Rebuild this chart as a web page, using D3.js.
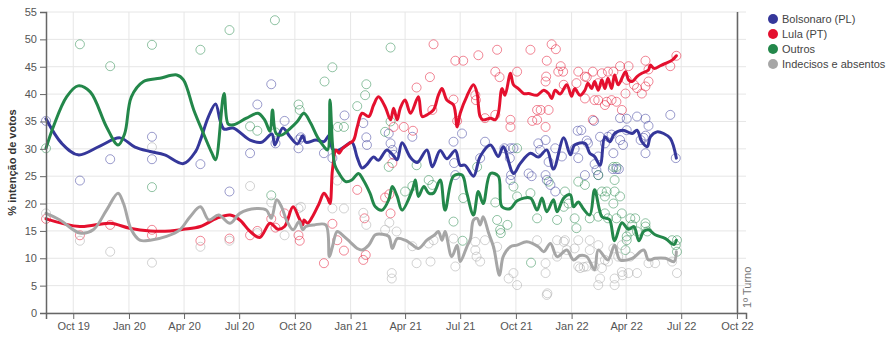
<!DOCTYPE html>
<html><head><meta charset="utf-8">
<script src="https://cdn.jsdelivr.net/npm/d3@7"></script>
<style>
body{margin:0;background:#fff;}
svg{font-family:"Liberation Sans",Arial,sans-serif;}
</style></head><body>
<svg id="chart" width="886" height="339"></svg>
<script>
const seriesNames = ["Bolsonaro (PL)", "Lula (PT)", "Outros", "Indecisos e absentos"];
const seriesColors = ["#35379a", "#e4102e", "#23874a", "#a6a6a6"];
const yTickValues = [0,5,10,15,20,25,30,35,40,45,50,55];
const dateDomain = ["2019-08-17", "2022-10-16"];
const electionDate = "2022-10-02";
const electionLabel = "1º Turno";
const yLabel = "% intenção de votos";

const bolsonaroPolls = [["2019-08-17",35.1],["2019-10-12",24.2],["2019-12-01",28.1],["2020-02-08",32.2],["2020-02-08",28.1],["2020-04-28",27.2],["2020-06-15",22.2],["2020-07-19",29.2],["2020-07-31",38.1],["2020-08-23",41.8],["2020-08-30",31],["2020-09-14",35.1],["2020-10-07",30.1],["2020-10-08",31.7],["2020-10-11",32.1],["2020-11-18",29.2],["2020-12-02",28.3],["2020-12-22",36.1],["2021-01-22",34.7],["2021-01-27",32.1],["2021-01-28",30.7],["2021-03-05",32.8],["2021-03-08",31],["2021-03-11",29.8],["2021-03-13",28.9],["2021-04-13",32.2],["2021-06-20",31.3],["2021-06-21",27.4],["2021-06-23",25.2],["2021-07-04",32.8],["2021-08-03",28.3],["2021-08-11",31.3],["2021-09-12",30.1],["2021-09-22",30.1],["2021-09-27",30.1],["2021-09-21",28.3],["2021-09-23",25.2],["2021-09-22",24.3],["2021-10-22",25.5],["2021-10-27",25],["2021-11-07",31],["2021-11-10",29.8],["2021-11-19",31.6],["2021-11-19",25.2],["2021-11-21",24.3],["2021-11-24",27.6],["2021-11-27",23.4],["2021-12-05",22.2],["2021-12-05",30.1],["2021-12-16",28.6],["2022-01-06",30],["2022-01-11",33.3],["2022-01-12",28.3],["2022-01-17",33.4],["2022-01-23",25.2],["2022-01-26",31.5],["2022-01-28",31],["2022-02-07",35.1],["2022-02-08",27.2],["2022-02-11",26.1],["2022-02-14",25.2],["2022-02-14",28.6],["2022-02-17",32.2],["2022-02-25",31],["2022-03-02",32.2],["2022-03-08",32.6],["2022-03-11",29.2],["2022-03-10",26.3],["2022-03-16",26.3],["2022-03-20",26.3],["2022-03-22",35.6],["2022-03-22",31.6],["2022-03-27",30.7],["2022-04-02",35.5],["2022-04-02",33.4],["2022-04-19",35.9],["2022-04-25",31.6],["2022-04-30",32],["2022-05-03",35.5],["2022-05-03",32.4],["2022-05-03",29.2],["2022-05-08",34.2],["2022-06-13",36.2],["2022-06-22",28.3]];

const lulaPolls = [["2019-08-17",17.2],["2019-10-12",14.2],["2019-12-01",16.1],["2020-02-08",15.2],["2020-02-08",14.2],["2020-04-28",13.2],["2020-06-15",13.6],["2020-07-19",14.2],["2020-07-31",15],["2020-08-23",17.2],["2020-08-30",15.6],["2020-09-14",18.2],["2020-10-07",14.2],["2020-10-09",13.2],["2020-11-18",9.1],["2020-12-02",16.3],["2020-12-10",13.3],["2020-12-21",11.4],["2021-01-12",22.5],["2021-01-24",17.3],["2021-01-26",10.6],["2021-01-22",9.7],["2021-02-27",21.1],["2021-03-06",21.7],["2021-03-08",18.2],["2021-03-11",27.4],["2021-03-13",34],["2021-03-30",34],["2021-04-14",33.3],["2021-04-20",41.2],["2021-05-12",43.1],["2021-05-16",37.1],["2021-05-18",49.1],["2021-06-20",39],["2021-06-23",46.1],["2021-06-26",35.1],["2021-07-06",46.1],["2021-07-26",39.8],["2021-07-27",38.9],["2021-07-31",47.1],["2021-08-11",35.6],["2021-08-28",36.2],["2021-08-28",44.1],["2021-08-31",48.1],["2021-09-04",43.1],["2021-09-22",35.3],["2021-09-22",34],["2021-10-03",44.1],["2021-10-25",48.1],["2021-10-28",35.1],["2021-11-05",37.1],["2021-11-05",35.3],["2021-11-11",37.1],["2021-11-19",34],["2021-11-19",42.3],["2021-11-20",43.2],["2021-11-21",46.1],["2021-11-24",37.1],["2021-11-29",49.1],["2021-12-06",48.2],["2021-12-10",44.1],["2021-12-14",45.1],["2021-12-18",44.1],["2021-12-19",41.7],["2022-01-09",42],["2022-01-12",44.1],["2022-01-23",39.2],["2022-01-23",43.2],["2022-01-26",43.1],["2022-02-05",44.1],["2022-02-05",35.3],["2022-02-08",38.9],["2022-02-14",42],["2022-02-14",38.9],["2022-02-20",43.8],["2022-02-25",38],["2022-02-28",38.6],["2022-03-02",44.1],["2022-03-08",38.9],["2022-03-11",44.1],["2022-03-16",38.6],["2022-03-22",45.1],["2022-03-25",37.1],["2022-03-31",40.1],["2022-04-02",42.6],["2022-04-05",45.1],["2022-04-14",41.7],["2022-04-19",41.1],["2022-04-27",40.1],["2022-05-03",46.1],["2022-05-03",41.4],["2022-05-08",44.5],["2022-05-08",42.3],["2022-06-13",45.1],["2022-06-23",47]];

const outrosPolls = [["2019-08-17",30.1],["2019-10-12",49.1],["2019-12-01",45.1],["2020-02-08",49],["2020-02-08",23],["2020-04-28",48.1],["2020-06-15",51.7],["2020-07-19",34.1],["2020-07-31",33.3],["2020-08-23",21.5],["2020-08-29",53.5],["2020-08-30",33],["2020-10-07",38.1],["2020-10-09",37.1],["2020-11-19",42.3],["2020-12-02",44.9],["2020-12-11",34],["2020-12-21",34],["2021-01-12",37.8],["2021-01-25",39.8],["2021-01-27",41.8],["2021-02-27",33.1],["2021-03-05",26.7],["2021-03-08",35],["2021-03-08",48.5],["2021-04-01",22.2],["2021-04-13",23.2],["2021-04-20",27],["2021-05-10",24.3],["2021-05-16",23.4],["2021-06-20",16.7],["2021-07-05",13.2],["2021-07-06",21],["2021-07-29",26.7],["2021-08-28",20.2],["2021-08-31",17],["2021-09-05",15.2],["2021-09-06",14.6],["2021-09-17",16.1],["2021-09-27",23.1],["2021-10-03",30.1],["2021-10-03",21.3],["2021-10-25",21.9],["2021-10-26",9.2],["2021-11-05",17.3],["2021-11-24",24],["2021-12-08",17],["2021-12-19",19.4],["2021-12-21",22.2],["2021-12-27",20],["2022-01-06",17.3],["2022-01-09",15.5],["2022-01-12",24],["2022-01-23",23.4],["2022-01-31",17.3],["2022-02-14",25.2],["2022-02-14",17.6],["2022-02-20",22.2],["2022-02-25",21.3],["2022-02-25",18.2],["2022-02-28",22.2],["2022-03-02",17.3],["2022-03-11",20],["2022-03-11",26.7],["2022-03-16",26.7],["2022-03-13",24.3],["2022-03-13",22.2],["2022-03-16",17.3],["2022-03-22",21.3],["2022-03-25",18.2],["2022-03-31",11.5],["2022-04-02",14],["2022-04-02",13.3],["2022-04-08",17.3],["2022-04-08",14.9],["2022-04-11",16.1],["2022-04-16",17.3],["2022-04-19",14.9],["2022-05-03",16.4],["2022-05-03",15.8],["2022-05-06",14.9],["2022-06-16",13.3],["2022-06-22",12.4],["2022-06-24",13.3],["2022-06-24",11.2]];

const indecisosPolls = [["2019-08-17",18.2],["2019-10-12",13.2],["2019-12-01",11.2],["2020-02-08",30.3],["2020-02-08",9.2],["2020-04-28",12.1],["2020-06-15",13.2],["2020-07-19",23.2],["2020-07-31",14.6],["2020-08-23",20.2],["2020-09-14",14.2],["2020-10-07",19.1],["2020-10-11",19.4],["2020-12-02",19.1],["2020-12-10",24.2],["2020-12-21",19.1],["2021-01-22",18.3],["2021-01-27",16.1],["2021-02-27",15.2],["2021-03-06",16.5],["2021-03-10",7.3],["2021-03-10",6.3],["2021-03-18",14.9],["2021-04-13",12.2],["2021-04-20",9.1],["2021-05-10",12.7],["2021-05-13",9.4],["2021-05-18",13.3],["2021-06-20",13.6],["2021-06-23",8.5],["2021-07-26",13],["2021-07-26",11.5],["2021-07-28",10.3],["2021-08-03",9.4],["2021-08-11",13.3],["2021-08-31",12.1],["2021-09-19",6.3],["2021-09-27",7.3],["2021-10-03",5.1],["2021-11-05",13.3],["2021-11-19",9.1],["2021-11-19",7.3],["2021-11-21",3.3],["2021-11-22",3.6],["2021-12-08",13.3],["2021-12-08",10.3],["2021-12-19",13],["2021-12-21",13.3],["2021-12-24",11.5],["2022-01-06",11.8],["2022-01-12",13.3],["2022-01-12",8.5],["2022-01-15",8.2],["2022-01-21",8.4],["2022-01-26",8.5],["2022-01-31",13.3],["2022-01-31",11.5],["2022-02-08",8.5],["2022-02-14",12.4],["2022-02-14",5.1],["2022-02-17",6.3],["2022-02-20",8.2],["2022-02-25",9.7],["2022-03-02",9.4],["2022-03-11",11.8],["2022-03-13",6.3],["2022-03-13",5.1],["2022-03-19",10.3],["2022-03-25",12.4],["2022-03-25",7.5],["2022-03-26",6.9],["2022-04-05",7.3],["2022-04-08",10.3],["2022-04-19",7.3],["2022-05-08",9.1],["2022-05-19",9.1],["2022-06-16",9.4],["2022-06-24",7.3]];

const bolsonaroTrend = [["2019-08-17",35.5],["2019-09-12",31],["2019-10-09",28.9],["2019-11-14",30.5],["2019-12-17",32],["2020-01-11",30.3],["2020-02-05",29.5],["2020-02-29",28.9],["2020-03-31",27.3],["2020-04-20",29.5],["2020-04-28",31.6],["2020-05-11",35.8],["2020-05-23",38.2],["2020-05-31",35],["2020-06-06",33.6],["2020-06-21",33.8],["2020-07-19",31.6],["2020-08-07",31.2],["2020-08-24",32.7],["2020-08-29",30.7],["2020-09-11",33.8],["2020-09-23",32.2],["2020-10-05",30.9],["2020-10-14",32.4],["2020-10-19",31.2],["2020-11-05",31.6],["2020-11-18",31.3],["2020-11-27",32.5],["2020-12-02",30],["2020-12-10",29.7],["2020-12-21",30.3],["2021-01-03",31.2],["2021-01-12",28.4],["2021-01-20",26.5],["2021-01-27",27],["2021-02-08",28.5],["2021-02-16",27.9],["2021-03-02",29.8],["2021-03-13",28.7],["2021-03-19",28],["2021-03-27",31.1],["2021-04-10",28.4],["2021-04-21",27.5],["2021-05-07",29.8],["2021-05-16",26.7],["2021-05-29",29.7],["2021-06-09",28.2],["2021-06-23",29.7],["2021-07-01",27],["2021-07-09",27],["2021-07-23",25],["2021-08-03",28.6],["2021-08-20",30.7],["2021-09-02",28.6],["2021-09-10",30.4],["2021-09-27",25.5],["2021-10-08",27.3],["2021-10-25",29.2],["2021-11-07",28.5],["2021-11-21",29.8],["2021-12-02",26.3],["2021-12-19",32],["2021-12-30",28.9],["2022-01-06",30.7],["2022-01-23",31],["2022-01-31",29.2],["2022-02-08",28.6],["2022-02-17",27],["2022-02-25",32.2],["2022-03-05",31.3],["2022-03-13",32.8],["2022-03-27",33.4],["2022-04-11",32.8],["2022-04-19",33.4],["2022-04-27",31.3],["2022-05-06",30.4],["2022-05-11",32.2],["2022-05-22",33.1],["2022-06-02",32.8],["2022-06-13",31.9],["2022-06-23",28.3]];

const lulaTrend = [["2019-08-17",17.2],["2019-10-12",15.8],["2019-12-01",16.4],["2020-01-02",15.5],["2020-02-05",15],["2020-03-09",15],["2020-03-31",15.3],["2020-04-28",15.8],["2020-05-25",17.3],["2020-06-16",17.9],["2020-07-02",17],["2020-07-19",14.9],["2020-08-04",13.8],["2020-08-21",16.4],["2020-09-03",15.3],["2020-09-14",15.8],["2020-09-28",19.4],["2020-10-08",17.3],["2020-10-14",16.1],["2020-10-16",17],["2020-10-22",16.4],["2020-10-30",17.6],["2020-11-10",20],["2020-11-18",21.9],["2020-11-24",21],["2020-11-28",20],["2020-12-02",26.1],["2020-12-08",29.8],["2020-12-13",29.2],["2020-12-19",30.1],["2020-12-30",31],["2021-01-06",31.6],["2021-01-12",34],["2021-01-20",36.5],["2021-01-31",35.9],["2021-02-08",38],["2021-02-16",39.5],["2021-02-27",37.7],["2021-03-08",35.3],["2021-03-13",37.4],["2021-03-19",35.3],["2021-03-24",37.4],["2021-04-01",38.9],["2021-04-10",36.5],["2021-04-23",39.5],["2021-04-29",35.9],["2021-05-07",36.2],["2021-05-18",37.1],["2021-05-26",39.8],["2021-06-01",41],["2021-06-09",38.9],["2021-06-20",38],["2021-06-26",34],["2021-07-01",36.5],["2021-07-12",39.6],["2021-07-23",41.7],["2021-07-29",40.1],["2021-07-31",38],["2021-08-03",35.9],["2021-08-08",35.3],["2021-08-20",35.6],["2021-08-28",35.3],["2021-09-02",36.5],["2021-09-08",41],["2021-09-13",39.8],["2021-09-22",43.8],["2021-09-27",41.7],["2021-10-05",41],["2021-10-14",40.1],["2021-10-22",40.1],["2021-11-05",39.8],["2021-11-16",40.7],["2021-11-24",40.1],["2021-11-29",39.2],["2021-12-05",40.7],["2021-12-13",40],["2021-12-24",41.7],["2022-01-01",39.6],["2022-01-06",41],["2022-01-15",39.8],["2022-01-23",40.7],["2022-01-28",42],["2022-02-03",41],["2022-02-08",42.3],["2022-02-14",40.7],["2022-02-20",42.6],["2022-02-25",41],["2022-03-02",42.9],["2022-03-08",41],["2022-03-13",43.5],["2022-03-19",41.7],["2022-03-31",44.1],["2022-04-05",42.6],["2022-04-11",42.3],["2022-04-19",43.2],["2022-04-27",43.8],["2022-05-08",44.4],["2022-05-11",45.3],["2022-05-17",44.7],["2022-05-28",45.2],["2022-06-05",45.6],["2022-06-16",46.2],["2022-06-23",47]];

const outrosTrend = [["2019-08-17",30.1],["2019-08-29",34],["2019-09-20",39.5],["2019-10-09",41.5],["2019-10-29",40.4],["2019-11-25",34],["2019-12-14",30.7],["2019-12-25",32.8],["2020-01-05",39.5],["2020-01-25",42.3],["2020-02-21",42.9],["2020-03-20",43.5],["2020-03-31",42.6],["2020-04-17",37.1],["2020-05-03",32.8],["2020-05-17",29.2],["2020-05-23",28],["2020-06-06",40.1],["2020-06-13",34.5],["2020-06-22",34.4],["2020-07-13",35.6],["2020-08-01",36.5],["2020-08-12",35.3],["2020-08-21",33.2],["2020-08-25",37.1],["2020-08-31",32.8],["2020-09-09",32.5],["2020-09-23",33.7],["2020-10-05",35],["2020-10-16",36.5],["2020-10-27",34.7],["2020-11-07",32.2],["2020-11-18",30.4],["2020-11-24",29.8],["2020-11-28",38.9],["2020-12-02",31],["2020-12-06",27],["2020-12-13",25.5],["2020-12-24",24],["2021-01-03",24.3],["2021-01-14",25.5],["2021-01-22",24.3],["2021-02-02",21.9],["2021-02-11",19.4],["2021-02-22",18.8],["2021-03-05",20.7],["2021-03-11",23.1],["2021-03-19",21.3],["2021-03-27",18.8],["2021-04-13",22.5],["2021-04-18",24.3],["2021-04-23",21.3],["2021-05-02",23.1],["2021-05-10",21.9],["2021-05-18",21.9],["2021-05-29",24.3],["2021-06-06",18.8],["2021-06-20",25],["2021-07-04",25.2],["2021-07-12",21.9],["2021-07-23",17.9],["2021-07-31",22.2],["2021-08-08",20],["2021-08-20",25.5],["2021-09-02",25],["2021-09-08",19.4],["2021-09-22",19.1],["2021-10-03",20.5],["2021-10-25",21],["2021-11-05",18.8],["2021-11-13",21],["2021-11-21",18.5],["2021-12-02",20.7],["2021-12-08",18.5],["2021-12-19",21],["2021-12-30",21.6],["2022-01-04",19.4],["2022-01-12",20.3],["2022-01-20",19.1],["2022-01-31",17.9],["2022-02-08",22.5],["2022-02-20",17.6],["2022-02-28",17.3],["2022-03-05",17],["2022-03-13",13.2],["2022-03-25",16.5],["2022-04-05",15.3],["2022-04-14",15.8],["2022-04-22",13.2],["2022-04-30",14.9],["2022-05-08",15.2],["2022-05-19",14.3],["2022-06-05",13.6],["2022-06-19",12.5],["2022-06-23",13.3]];

const indecisosTrend = [["2019-08-17",18.2],["2019-09-09",17],["2019-10-12",14.6],["2019-11-03",15.2],["2019-11-25",18.8],["2019-12-14",21.9],["2019-12-23",20],["2020-01-05",15.2],["2020-01-19",13.3],["2020-02-05",13.3],["2020-03-03",14],["2020-03-25",15.2],["2020-04-11",17.6],["2020-04-28",19.4],["2020-05-12",17],["2020-05-28",17.9],["2020-06-16",16.4],["2020-07-02",18.2],["2020-07-30",19.1],["2020-08-15",18.8],["2020-08-23",17.3],["2020-09-01",20.7],["2020-09-09",19.4],["2020-09-17",17],["2020-09-28",15.2],["2020-10-08",16.7],["2020-10-14",15.2],["2020-10-19",15.8],["2020-11-02",16.1],["2020-11-21",16.1],["2020-11-27",10.3],["2020-12-02",12.1],["2020-12-10",14.9],["2020-12-21",14],["2020-12-31",13],["2021-01-12",11.8],["2021-01-20",11.5],["2021-01-31",12.4],["2021-02-11",14.3],["2021-02-22",14.4],["2021-03-05",14],["2021-03-11",11.8],["2021-03-19",13.6],["2021-04-01",13.3],["2021-04-10",12.7],["2021-04-23",11.8],["2021-05-07",13.3],["2021-05-20",14.3],["2021-05-26",14.9],["2021-06-01",13.3],["2021-06-06",14.9],["2021-06-17",10.3],["2021-06-26",12.4],["2021-07-01",9.4],["2021-07-12",12.1],["2021-07-18",13.6],["2021-07-23",17],["2021-07-29",17.3],["2021-08-03",16.1],["2021-08-08",17.6],["2021-08-17",14.6],["2021-08-25",12.1],["2021-09-04",6.9],["2021-09-10",10.3],["2021-09-22",12.1],["2021-10-03",12.4],["2021-10-19",13],["2021-11-07",12.1],["2021-11-16",11.2],["2021-11-27",12.7],["2021-12-08",10.3],["2021-12-24",11.5],["2022-01-04",9.7],["2022-01-15",10.5],["2022-01-26",10.3],["2022-02-08",7.9],["2022-02-14",11.5],["2022-03-02",9.7],["2022-03-13",12.4],["2022-03-22",9.7],["2022-04-11",10],["2022-04-30",11.5],["2022-05-08",9.7],["2022-05-19",10],["2022-06-05",10],["2022-06-19",9.4],["2022-06-23",11.2]];

const pollSets = [bolsonaroPolls, lulaPolls, outrosPolls, indecisosPolls];
const trendSets = [bolsonaroTrend, lulaTrend, outrosTrend, indecisosTrend];

const parse = d3.timeParse("%Y-%m-%d");
const svg = d3.select("#chart");
const margin = {left: 46, top: 12, right: 140, bottom: 26};
const W = 886, H = 339;

const x = d3.scaleTime().domain(dateDomain.map(parse)).range([margin.left, W - margin.right]);
const y = d3.scaleLinear().domain([0, 55]).range([H - margin.bottom, margin.top]);

const xTicks = x.ticks(d3.timeMonth.every(3));

// grid
const grid = svg.append("g");
grid.selectAll("line.h").data(yTickValues).join("line")
  .attr("x1", x.range()[0]).attr("x2", x.range()[1])
  .attr("y1", d => y(d)).attr("y2", d => y(d))
  .attr("stroke", "#e6e6e6").attr("stroke-width", 1);
grid.selectAll("line.v").data(xTicks).join("line")
  .attr("x1", d => x(d)).attr("x2", d => x(d))
  .attr("y1", y.range()[1]).attr("y2", y.range()[0])
  .attr("stroke", "#e6e6e6").attr("stroke-width", 1);

// election line
const ex = x(parse(electionDate));
svg.append("line").attr("x1", ex).attr("x2", ex)
  .attr("y1", y(55)).attr("y2", y(0))
  .attr("stroke", "#666").attr("stroke-width", 1.5);
svg.append("text")
  .attr("transform", `translate(${ex + 13},${y(0) - 5}) rotate(-90)`)
  .attr("font-size", 11).attr("fill", "#777").text(electionLabel);

// poll circles
pollSets.forEach((set, i) => {
  svg.append("g").selectAll("circle").data(set).join("circle")
    .attr("cx", d => x(parse(d[0]))).attr("cy", d => y(d[1]))
    .attr("r", 4.5).attr("fill", "none")
    .attr("stroke", seriesColors[i]).attr("stroke-opacity", 0.5).attr("stroke-width", 1);
});

// trend lines
const line = d3.line().x(d => x(parse(d[0]))).y(d => y(d[1])).curve(d3.curveCatmullRom.alpha(0.5));
trendSets.forEach((set, i) => {
  svg.append("path").datum(set).attr("d", line)
    .attr("fill", "none").attr("stroke", seriesColors[i]).attr("stroke-width", 3)
    .attr("stroke-linejoin", "round").attr("stroke-linecap", "round");
});

// axes
const xAxis = svg.append("g").attr("transform", `translate(0,${y(0)})`)
  .call(d3.axisBottom(x).tickValues(xTicks).tickFormat(d3.timeFormat("%b %y")));
const yAxis = svg.append("g").attr("transform", `translate(${margin.left},0)`)
  .call(d3.axisLeft(y).tickValues(yTickValues));
[xAxis, yAxis].forEach(a => {
  a.select(".domain").attr("stroke", "#666").attr("stroke-width", 1.5);
  a.selectAll(".tick line").attr("stroke", "#666");
  a.selectAll("text").attr("fill", "#555").attr("font-size", 11)
    .attr("font-family", '"Liberation Sans",Arial,sans-serif');
});

svg.append("text")
  .attr("transform", `translate(16,${(y(0) + y(55)) / 2}) rotate(-90)`)
  .attr("text-anchor", "middle").attr("font-size", 11).attr("font-weight", "bold")
  .attr("fill", "#333").text(yLabel);

// legend
const lg = svg.append("g").attr("transform", "translate(773,19)");
seriesNames.forEach((n, i) => {
  lg.append("circle").attr("cx", 0).attr("cy", i * 15).attr("r", 5).attr("fill", seriesColors[i]);
  lg.append("text").attr("x", 9).attr("y", i * 15 + 4).attr("font-size", 11).attr("fill", "#444").text(n);
});
</script>
</body></html>
